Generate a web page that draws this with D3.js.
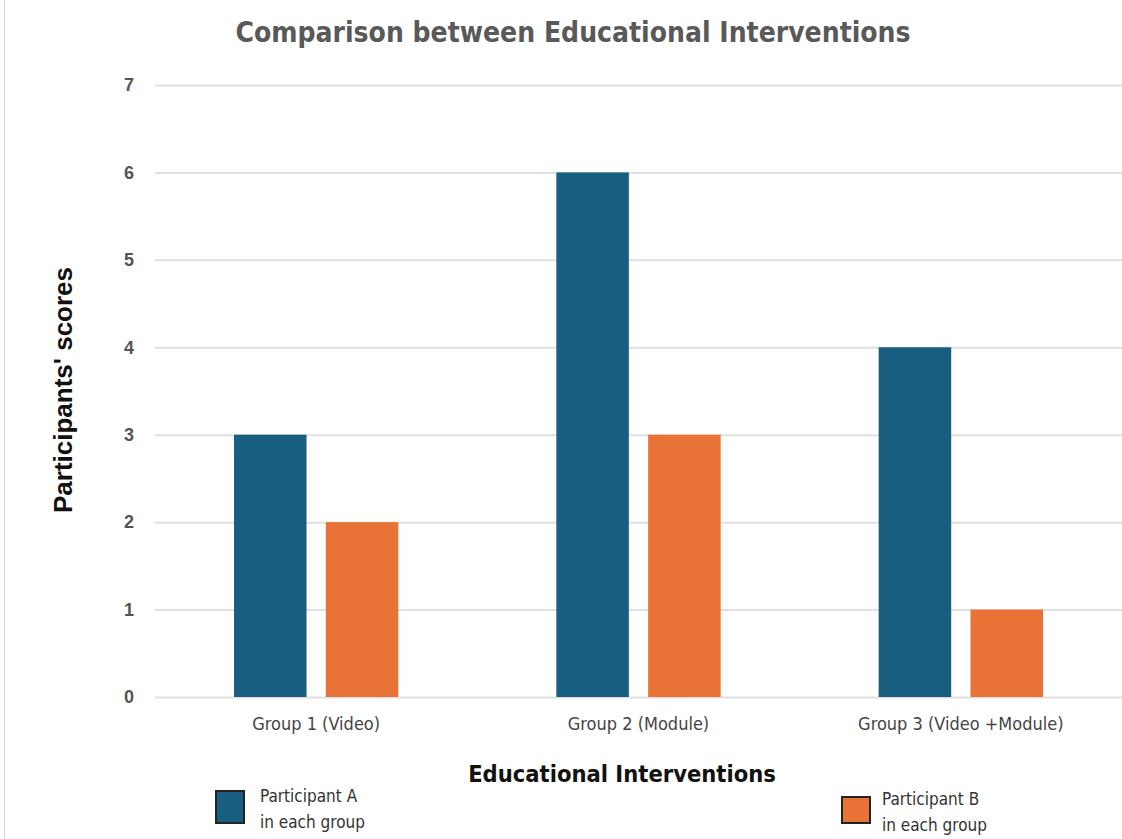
<!DOCTYPE html>
<meta charset="utf-8">
<style>
    body { margin: 0; background: #fff; }
    .cond { font-family: "Liberation Sans Narrow", "DejaVu Sans Condensed", "Roboto", sans-serif; font-stretch: condensed; }
    .grid line { stroke: #e0e0e0; stroke-width: 2; }
    .grid path { display: none; }
    .y.axis path, .y.axis line, .x.axis path, .x.axis line { display: none; }
</style>
<body>
<div id="main"></div>
<script src="https://cdn.jsdelivr.net/npm/d3@7"></script>
<script>
var groups = ["Group 1 (Video)", "Group 2 (Module)", "Group 3 (Video +Module)"];
var series = ["Participant A", "Participant B"];
var scoresA = [3, 6, 4];
var scoresB = [2, 3, 1];
var yTicks = [0, 1, 2, 3, 4, 5, 6, 7];
var colors = ["#175e80", "#e97336"];

var width = 1122, height = 839;
var margin = {top: 85, right: 0, bottom: 142, left: 155};

var svg = d3.select("#main").append("svg")
    .attr("width", width)
    .attr("height", height);

// thin frame line on the left edge
svg.append("line")
    .attr("x1", 4.5).attr("x2", 4.5).attr("y1", 0).attr("y2", height)
    .attr("stroke", "#d8d8d8").attr("stroke-width", 1);

var x0 = d3.scaleBand()
    .domain(groups)
    .range([margin.left, width - margin.right])
    .paddingInner(0)
    .paddingOuter(0);

var x1 = d3.scaleBand()
    .domain(series)
    .range([79, x0.bandwidth() - 79])
    .paddingInner(0.21);

var y = d3.scaleLinear()
    .domain([0, 7])
    .range([height - margin.bottom, margin.top]);

svg.append("g")
    .attr("class", "grid")
    .attr("transform", "translate(" + margin.left + ",0)")
    .call(d3.axisLeft(y).tickValues(yTicks).tickSize(-(width - margin.left)).tickFormat(""));

svg.append("g")
    .attr("class", "y axis")
    .attr("transform", "translate(" + (margin.left - 18) + ",0)")
    .call(d3.axisLeft(y).tickValues(yTicks).tickSize(0).tickFormat(d3.format("d")))
    .selectAll("text")
    .style("font-family", "'Liberation Sans', Arial, sans-serif")
    .style("font-size", "18px")
    .style("font-weight", "bold")
    .style("fill", "#555");

var data = groups.map(function(g, i) {
    return {group: g, values: [
        {key: series[0], value: scoresA[i], color: colors[0]},
        {key: series[1], value: scoresB[i], color: colors[1]}
    ]};
});

svg.append("g").selectAll("g")
    .data(data)
    .join("g")
    .attr("transform", function(d) { return "translate(" + x0(d.group) + ",0)"; })
    .selectAll("rect")
    .data(function(d) { return d.values; })
    .join("rect")
    .attr("x", function(d) { return x1(d.key); })
    .attr("y", function(d) { return y(d.value); })
    .attr("width", x1.bandwidth())
    .attr("height", function(d) { return y(0) - y(d.value); })
    .attr("fill", function(d) { return d.color; });

svg.append("g")
    .attr("class", "x axis")
    .attr("transform", "translate(0," + (height - margin.bottom) + ")")
    .call(d3.axisBottom(x0).tickSize(0).tickPadding(20))
    .selectAll("text")
    .attr("class", "cond")
    .style("font-size", "18px")
    .style("fill", "#444");

// title
svg.append("text")
    .attr("class", "cond")
    .attr("x", 573).attr("y", 42)
    .attr("text-anchor", "middle")
    .style("font-size", "28px").style("font-weight", "bold").style("fill", "#595959")
    .text("Comparison between Educational Interventions");

// axis titles
svg.append("text")
    .attr("transform", "translate(72," + 390 + ") rotate(-90)")
    .attr("text-anchor", "middle")
    .style("font", "bold 26px 'Liberation Sans', Arial, sans-serif")
    .style("fill", "#111")
    .text("Participants' scores");

svg.append("text")
    .attr("class", "cond")
    .attr("x", 622).attr("y", 782)
    .attr("text-anchor", "middle")
    .style("font-size", "23.5px").style("font-weight", "bold").style("fill", "#111")
    .text("Educational Interventions");

// legend
var legendPos = [{x: 216, y: 791, tx: 260, ty: 802}, {x: 842, y: 797, tx: 882, ty: 805}];
series.forEach(function(s, i) {
    var p = legendPos[i];
    var g = svg.append("g");
    g.append("rect")
        .attr("x", p.x).attr("y", p.y)
        .attr("width", 28).attr("height", i === 0 ? 32 : 26)
        .attr("fill", colors[i])
        .attr("stroke", "#222").attr("stroke-width", 2);
    var t = g.append("text")
        .attr("class", "cond")
        .attr("x", p.tx).attr("y", p.ty)
        .style("font-size", "17px").style("fill", "#333");
    t.append("tspan").attr("x", p.tx).text(s);
    t.append("tspan").attr("x", p.tx).attr("dy", 26).text("in each group");
});
</script>
</body>
